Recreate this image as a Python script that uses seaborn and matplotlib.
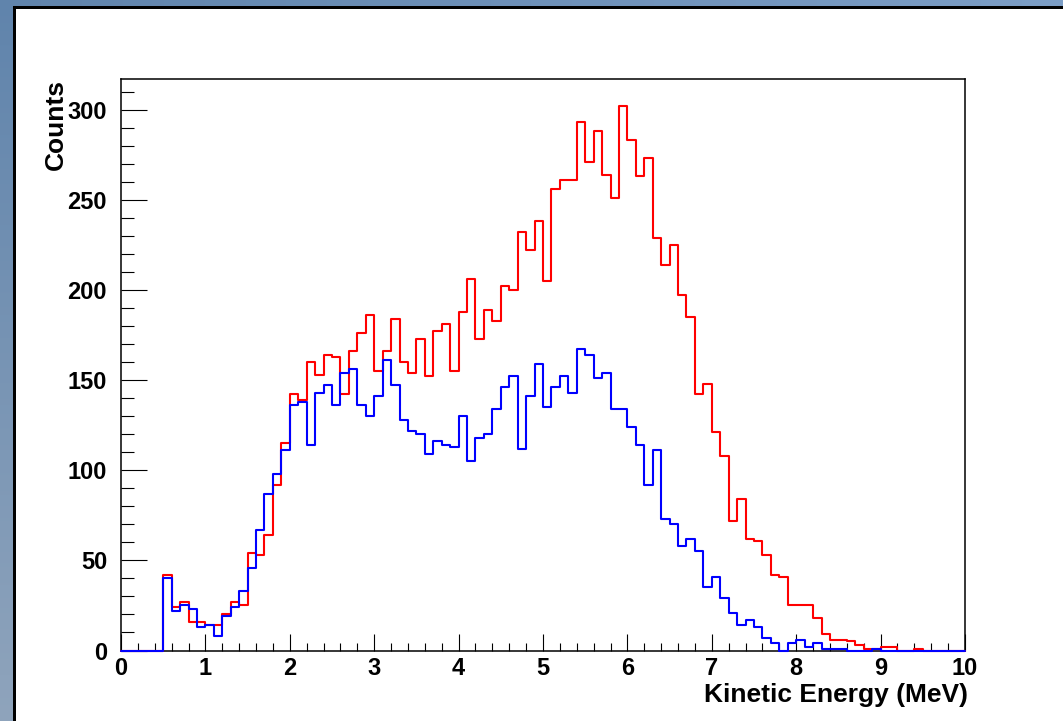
import numpy as np
import pandas as pd
import matplotlib
matplotlib.use("Agg")
import matplotlib.pyplot as plt
from matplotlib.ticker import MultipleLocator, FixedLocator
import seaborn as sns

# ---------------- data ----------------
bin_width = 0.1
bin_range = (0, 10)
bin_centers = np.round(np.arange(0.05, 10, bin_width), 2)

red_counts = [
    0, 0, 0, 0, 0, 42, 24, 27, 16, 16,
    14, 14, 20, 27, 25, 54, 53, 64, 92, 115,
    142, 139, 160, 153, 164, 163, 142, 166, 176, 186,
    155, 166, 184, 160, 154, 173, 152, 177, 181, 155,
    188, 206, 173, 189, 183, 202, 200, 232, 222, 238,
    205, 256, 261, 261, 293, 271, 288, 264, 251, 302,
    283, 263, 273, 229, 214, 225, 197, 185, 142, 148,
    121, 108, 72, 84, 62, 61, 53, 42, 41, 25,
    25, 25, 18, 9, 6, 6, 5, 3, 1, 1,
    2, 2, 0, 0, 1, 0, 0, 0, 0, 0,
]
blue_counts = [
    0, 0, 0, 0, 0, 40, 22, 25, 23, 13,
    14, 8, 19, 24, 33, 46, 67, 87, 98, 111,
    136, 138, 114, 143, 147, 136, 154, 156, 136, 130,
    141, 161, 147, 128, 122, 120, 109, 116, 114, 113,
    130, 105, 118, 120, 134, 146, 152, 112, 141, 159,
    135, 146, 152, 143, 167, 164, 151, 154, 134, 134,
    124, 114, 92, 111, 73, 70, 58, 62, 55, 35,
    41, 29, 21, 14, 17, 13, 7, 4, 0, 4,
    6, 2, 4, 1, 1, 1, 0, 0, 0, 1,
    0, 0, 0, 0, 0, 0, 0, 0, 0, 0,
]
x_ticks = list(range(0, 11))
y_ticks = [0, 50, 100, 150, 200, 250, 300]
x_label = "Kinetic Energy (MeV)"
y_label = "Counts"

df = pd.DataFrame({
    "energy": np.concatenate([bin_centers, bin_centers]),
    "counts": np.concatenate([red_counts, blue_counts]).astype(float),
    "series": ["red"] * len(bin_centers) + ["blue"] * len(bin_centers),
})

# ---------------- style ----------------
sns.set_style("ticks")
plt.rcParams["font.family"] = ["Liberation Sans", "DejaVu Sans"]
plt.rcParams["font.weight"] = "bold"
plt.rcParams["text.color"] = "black"
plt.rcParams["axes.labelcolor"] = "black"
plt.rcParams["xtick.color"] = "black"
plt.rcParams["ytick.color"] = "black"

W, H = 1063, 721
fig = plt.figure(figsize=(W / 100, H / 100), dpi=100)

# background frame (blue gradient strip + black border + white canvas)
bg = np.ones((H, W, 3))
c_top_left = np.array([96, 132, 172]) / 255
c_bot_left = np.array([143, 164, 188]) / 255
c_top_right = np.array([124, 158, 198]) / 255
t = np.linspace(0, 1, H)[:, None]
left_col = c_top_left * (1 - t) + c_bot_left * t
bg[:, :13, :] = left_col[:, None, :]
s = np.linspace(0, 1, W)[:, None]
top_row = c_top_left * (1 - s) + c_top_right * s
bg[:6, :, :] = top_row[None, :, :]
bg[6:, 13:16, :] = 0.0
bg[6:9, 13:, :] = 0.0
ax_bg = fig.add_axes([0, 0, 1, 1], zorder=-5)
ax_bg.imshow(bg, extent=[0, W, H, 0], aspect="auto", interpolation="nearest")
ax_bg.set_axis_off()

# main axes
left, right, top, bottom = 121, 965, 79, 650.5
ax = fig.add_axes([left / W, 1 - bottom / H, (right - left) / W, (bottom - top) / H])
ax.set_facecolor("white")

for name, col in [("red", "#ff0000"), ("blue", "#0000ff")]:
    sub = df[df["series"] == name]
    sns.histplot(data=sub, x="energy", weights="counts",
                 binwidth=bin_width, binrange=bin_range,
                 element="step", fill=False, color=col, linewidth=1.5, ax=ax)

for ln in ax.lines:
    ln.set_clip_on(False)
    ln.set_zorder(4)

ax.set_xlim(0, 10)
ax.set_ylim(0, 317)

ax.xaxis.set_major_locator(FixedLocator(x_ticks))
ax.set_xticklabels([str(v) for v in x_ticks])
ax.xaxis.set_minor_locator(MultipleLocator(0.2))
ax.yaxis.set_major_locator(FixedLocator(y_ticks))
ax.set_yticklabels([str(v) for v in y_ticks])
ax.yaxis.set_minor_locator(MultipleLocator(10))

ax.tick_params(axis="both", which="both", direction="in", colors="black",
               labelcolor="black", top=False, right=False, width=0.8)
ax.tick_params(axis="x", which="major", length=12.2, pad=5, labelsize=17)
ax.tick_params(axis="x", which="minor", length=6.1)
ax.tick_params(axis="y", which="major", length=18.7, pad=10, labelsize=17)
ax.tick_params(axis="y", which="minor", length=9.4)
for lab in ax.get_xticklabels() + ax.get_yticklabels():
    lab.set_fontweight("bold")
    lab.set_color("black")

for sp in ax.spines.values():
    sp.set_visible(True)
    sp.set_linewidth(1.1)
    sp.set_color("black")
    sp.set_zorder(3)

ax.set_xlabel(x_label, fontsize=19, fontweight="bold", loc="right", color="black")
ax.set_ylabel(y_label, fontsize=19, fontweight="bold", loc="top", color="black")
ax.xaxis.set_label_coords(1.004, -0.057)
ax.yaxis.set_label_coords(-0.063, 1.0)

fig.savefig("out.png", dpi=100)
